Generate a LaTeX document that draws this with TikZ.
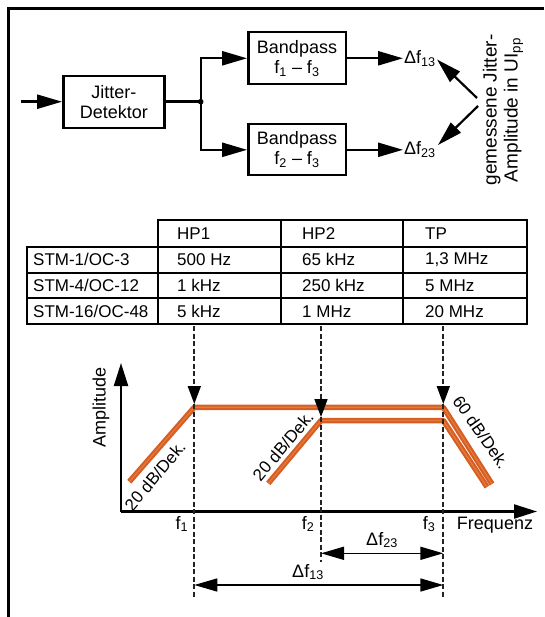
\documentclass[tikz,border=0pt]{standalone}
\usepackage{fontspec}
\setmainfont{Liberation Sans}
\usetikzlibrary{arrows.meta}
\definecolor{orng}{RGB}{214,94,34}
\definecolor{orngl}{RGB}{228,122,62}
\definecolor{guidegray}{RGB}{35,35,35}
\newcommand\fsBlk{\fontsize{18}{20}\selectfont}
\newcommand\fsTab{\fontsize{17}{19}\selectfont}
\newcommand\fsMeas{\fontsize{19}{21}\selectfont}
\begin{document}
\begin{tikzpicture}[x=1pt,y=-1pt,
  blk/.style={draw, line width=2.4pt, align=center, font=\fsBlk, inner sep=0pt},
  flow/.style={line width=2.4pt, -{Triangle[length=25pt,width=14pt]}},
  meas/.style={line width=2.2pt, -{Triangle[length=25pt,width=14pt]}},
  lbl/.style={font=\fsBlk, inner sep=1pt},
  tbl/.style={line width=1.8pt},
  cell/.style={anchor=west, font=\fsTab, inner sep=0pt},
  axis/.style={line width=2.2pt, -{Triangle[length=23pt,width=14pt]}},
  orngline/.style={line width=5.5pt, color=orng, line join=round},
  orngcore/.style={line width=1.2pt, color=orngl, line join=round},
  guide/.style={line width=1.7pt, color=guidegray, dash pattern=on 5pt off 2.5pt},
  guidetip/.style={-{Triangle[length=18pt,width=13pt,color=black]}},
  dim/.style={line width=1.6pt, {Triangle[length=23pt,width=13pt]}-{Triangle[length=23pt,width=13pt]}},
  slope/.style={font=\fontsize{17}{19}\selectfont, inner sep=0pt}
]
\useasboundingbox (0,0) rectangle (544,617);
% frame
\draw[line width=2.2pt, line join=miter] (544,8.5) -- (8.5,8.5) -- (8.5,617);

% ---------- block diagram ----------
\node[blk, minimum width=101pt, minimum height=52pt] (jit) at (113.8,102.2) {Jitter-\\Detektor};
\node[blk, minimum width=97.4pt, minimum height=52pt] (bp1) at (297,58.3) {Bandpass\\f\textsubscript{1} – f\textsubscript{3}};
\node[blk, minimum width=97.4pt, minimum height=51pt] (bp2) at (297,149.8) {Bandpass\\f\textsubscript{2} – f\textsubscript{3}};
\coordinate (in) at (20.7,101.7);
\coordinate (jn) at (200.7,101.7);
\draw[flow] (in) -- (in -| jit.west);
\draw[line width=2.4pt] (jit.east |- jn) -- (jn);
\fill (jn) circle (2.8pt);
\draw[flow] (jn) |- (bp1.west);
\draw[flow] (jn) |- (bp2.west);
\node[lbl, anchor=base west] (d13) at (403,63.5) {Δf\textsubscript{13}};
\node[lbl, anchor=base west] (d23) at (403,155) {Δf\textsubscript{23}};
\draw[flow] (bp1.east) -- (bp1.east -| d13.west);
\draw[flow] (bp2.east) -- (bp2.east -| d23.west);
\node[rotate=90, align=center, font=\fsMeas, inner sep=0pt] (mtxt) at (503,110) {gemessene Jitter-\\Amplitude in UI\textsubscript{pp}};
\coordinate (m1) at (477,98);
\coordinate (m2) at (478,106);
\coordinate (t1) at (437,59.5);
\coordinate (t2) at (438,145);
\draw[meas] (m1) -- (t1);
\draw[meas] (m2) -- (t2);

% ---------- table ----------
\draw[tbl, line join=miter] (158,220) -- (527,220) -- (527,324) -- (27,324) -- (27,246.7) -- (158,246.7) -- cycle;
\draw[tbl] (27,246.7) -- (527,246.7);
\draw[tbl] (27,272.7) -- (527,272.7);
\draw[tbl] (27,298.3) -- (527,298.3);
\draw[tbl] (158,220) -- (158,324);
\draw[tbl] (281,220) -- (281,324);
\draw[tbl] (403,220) -- (403,324);
\node[cell] (h1) at (177,233.3) {HP1};
\node[cell] (h2) at (302,233.3) {HP2};
\node[cell] (h3) at (425,233.3) {TP};
\node[cell] (r1) at (33,259.7) {STM-1/OC-3};
\node[cell] (r2) at (33,285.5) {STM-4/OC-12};
\node[cell] (r3) at (33,311.2) {STM-16/OC-48};
\node[cell] (a1) at (177,259.7) {500 Hz};
\node[cell] (a2) at (177,285.5) {1 kHz};
\node[cell] (a3) at (177,311.2) {5 kHz};
\node[cell] (b1) at (302,259.7) {65 kHz};
\node[cell] (b2) at (302,285.5) {250 kHz};
\node[cell] (b3) at (302,311.2) {1 MHz};
\node[cell] (c1) at (425,259.7) {1,3 MHz};
\node[cell] (c2) at (425,285.5) {5 MHz};
\node[cell] (c3) at (425,311.2) {20 MHz};

% ---------- graph ----------
\coordinate (O) at (121,511.5);
\coordinate (ytop) at (121,363);
\coordinate (xend) at (537,511.5);
% orange curves
\draw[orngline] (129.3,481.7) -- (194.3,407.3) -- (443.3,407.3) -- (492,484);
\draw[orngline] (268.3,483.3) -- (321,420.5) -- (443.3,420.5) -- (487,487);
\draw[orngcore] (129.3,481.7) -- (194.3,407.3) -- (443.3,407.3) -- (492,484);
\draw[orngcore] (268.3,483.3) -- (321,420.5) -- (443.3,420.5) -- (487,487);
% axes
\draw[axis] (O) -- (ytop);
\draw[axis] (O) -- (xend);
% guides
\coordinate (g1a) at (194.3,326); \coordinate (g1t) at (194.3,404); \coordinate (g1b) at (194.3,597);
\coordinate (g2a) at (321,326);   \coordinate (g2t) at (321,417);   \coordinate (g2b) at (321,562);
\coordinate (g3a) at (443.3,326); \coordinate (g3t) at (443.3,404); \coordinate (g3b) at (443.3,597);
\draw[guide, guidetip] (g1a) -- (g1t);
\draw[guide] (g1t) -- (g1b);
\draw[guide, guidetip] (g2a) -- (g2t);
\draw[guide] (g2t) -- (g2b);
\draw[guide, guidetip] (g3a) -- (g3t);
\draw[guide] (g3t) -- (g3b);
% labels
\node[rotate=90, font=\fsBlk, inner sep=0pt] (amp) at (101,407.5) {Amplitude};
\node[font=\fsBlk, inner sep=0pt] (freq) at (495,525) {Frequenz};
\node[font=\fsBlk, inner sep=0pt] (lf1) at (182,524) {f\textsubscript{1}};
\node[font=\fsBlk, inner sep=0pt] (lf2) at (308,524) {f\textsubscript{2}};
\node[font=\fsBlk, inner sep=0pt] (lf3) at (429,524) {f\textsubscript{3}};
\node[slope, rotate=50] (s1) at (155,476) {20 dB/Dek.};
\node[slope, rotate=50] (s2) at (283,446) {20 dB/Dek.};
\node[slope, rotate=-55] (s3) at (481,432) {60 dB/Dek.};
% dimension arrows
\coordinate (k23a) at (321,553.3); \coordinate (k23b) at (443.3,553.3);
\coordinate (k13a) at (194.3,585); \coordinate (k13b) at (443.3,585);
\draw[dim] (k23a) -- (k23b);
\draw[dim] (k13a) -- (k13b);
\node[font=\fsBlk, inner sep=0pt] (df23) at (382,540) {Δf\textsubscript{23}};
\node[font=\fsBlk, inner sep=0pt] (df13) at (308,572) {Δf\textsubscript{13}};
\end{tikzpicture}
\end{document}
